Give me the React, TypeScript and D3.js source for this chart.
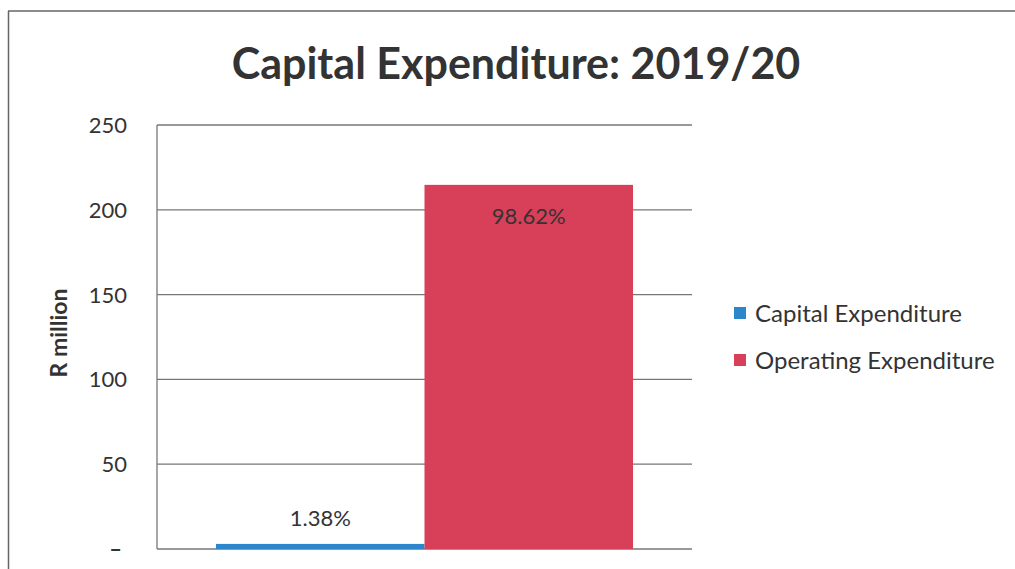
import * as d3 from 'd3';
import React from 'react';

// chart values
const categories = ['2019/20'];
const seriesNames = ['Capital Expenditure', 'Operating Expenditure'];
const seriesValues = [3.0, 214.7];
const shareLabels = ['1.38%', '98.62%'];
const yTicks = [0, 50, 100, 150, 200, 250];
const seriesColors = ['#2c86cb', '#d8405a'];

const W = 1015;
const H = 569;
const FONT = 'Lato, "Open Sans", sans-serif';

export default function App() {
  const margin = { top: 125, right: 323, bottom: 20, left: 157 };
  const x0 = d3
    .scaleBand()
    .domain(categories)
    .range([margin.left, W - margin.right])
    .paddingInner(0)
    .paddingOuter(0.1415);
  const x1 = d3
    .scaleBand()
    .domain(seriesNames)
    .range([0, x0.bandwidth()])
    .padding(0);
  const y = d3
    .scaleLinear()
    .domain([0, 250])
    .range([H - margin.bottom, margin.top]);

  const color = d3.scaleOrdinal<string, string>().domain(seriesNames).range(seriesColors);
  const [xl, xr] = x0.range();

  return (
    <div style={{ position: 'absolute', left: 0, top: 0 }}>
      <svg width={W} height={H} style={{ display: 'block', background: '#fff' }}>
        {/* outer frame */}
        <line x1={8} x2={W} y1={11} y2={11} stroke="#666" strokeWidth={1.5} />
        <line x1={8.5} x2={8.5} y1={11} y2={H} stroke="#666" strokeWidth={1.5} />

        <text
          x={516}
          y={79}
          textAnchor="middle"
          fontFamily={FONT}
          fontWeight="bold"
          fontSize={43}
          fill="#333"
        >
          Capital Expenditure: 2019/20
        </text>

        {/* gridlines */}
        {yTicks.map((t) => (
          <line
            key={t}
            x1={xl}
            x2={xr}
            y1={y(t)}
            y2={y(t)}
            stroke="#777"
            strokeWidth={1.3}
          />
        ))}
        <line x1={xl} x2={xl} y1={y(250)} y2={y(0)} stroke="#777" strokeWidth={1.3} />

        {/* tick labels */}
        {yTicks.map((t) => (
          <text
            key={'l' + t}
            x={t === 0 ? 122 : 127}
            y={y(t)}
            dy="0.36em"
            textAnchor="end"
            fontFamily={FONT}
            fontSize={22}
            fontWeight={t === 0 ? 'bold' : 'normal'}
            fill="#333"
          >
            {t === 0 ? '–' : t}
          </text>
        ))}

        <text
          transform={`translate(67,333) rotate(-90)`}
          textAnchor="middle"
          fontFamily={FONT}
          fontWeight="bold"
          fontSize={23}
          fill="#333"
        >
          R million
        </text>

        {/* bars */}
        {categories.map((c) =>
          seriesNames.map((s, i) => {
            const bx = x0(c)! + x1(s)!;
            const top = y(seriesValues[i]);
            return (
              <g key={c + s}>
                <rect
                  x={bx}
                  y={top}
                  width={x1.bandwidth()}
                  height={y(0) - top}
                  fill={color(s)}
                />
                <text
                  x={bx + x1.bandwidth() / 2}
                  y={i === 0 ? top - 18 : top + 39}
                  textAnchor="middle"
                  fontFamily={FONT}
                  fontSize={22}
                  fill="#333"
                >
                  {shareLabels[i]}
                </text>
              </g>
            );
          })
        )}

        {/* legend */}
        {seriesNames.map((s, i) => (
          <g key={'lg' + s} transform={`translate(734,${307 + i * 47})`}>
            <rect width={12} height={12} fill={color(s)} />
            <text
              x={21}
              y={6}
              dy="0.36em"
              fontFamily={FONT}
              fontSize={24}
              fill="#333"
            >
              {s}
            </text>
          </g>
        ))}
      </svg>
    </div>
  );
}
